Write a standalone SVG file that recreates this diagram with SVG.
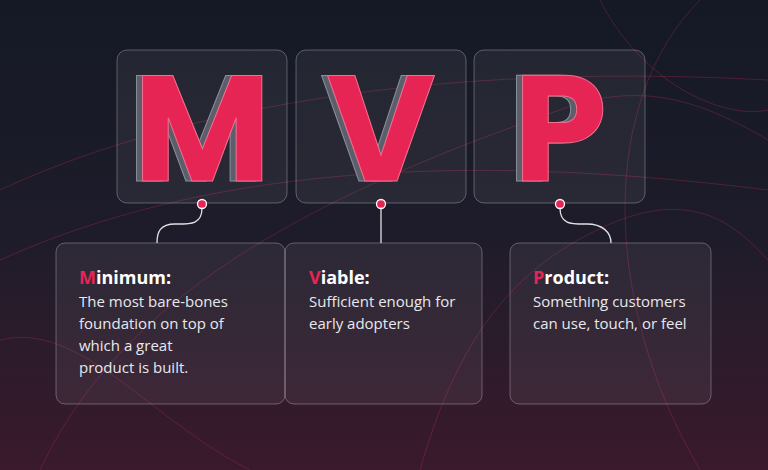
<svg xmlns="http://www.w3.org/2000/svg" width="768" height="470" viewBox="0 0 768 470">
<defs>
<linearGradient id="bg" x1="0" y1="0" x2="0" y2="1">
<stop offset="0" stop-color="#141925"/><stop offset="0.5" stop-color="#1e1c2a"/><stop offset="1" stop-color="#3a1a2c"/>
</linearGradient>
<style>
.card{fill:#ffffff;fill-opacity:0.06;stroke:#ffffff;stroke-opacity:0.28;stroke-width:1}
.big{font-family:Poppins,"Montserrat","Liberation Sans",sans-serif;font-weight:700;font-size:150px;text-anchor:middle}
.sh{fill:#5a5f6b;stroke:#8a8f99;stroke-width:1}
.fg{fill:#e62554;stroke:#f0708f;stroke-width:1}
.t{font-family:"Open Sans","Liberation Sans",sans-serif;fill:#e8e8ee;font-size:15px}
.h{font-family:"Open Sans","Liberation Sans",sans-serif;fill:#ffffff;font-size:18px;font-weight:700}
.r{fill:#e62554}
.deco{fill:none;stroke:#d0305e;stroke-opacity:0.28;stroke-width:1}
.con{fill:none;stroke:#e0e0e6;stroke-width:1.3}
.dot{fill:#e62554;stroke:#ffffff;stroke-width:1.3}
</style>
</defs>
<rect width="768" height="470" fill="url(#bg)"/>
<g id="decor">
<path class="deco" d="M0 190 C150 120 400 60 768 80"/>
<path class="deco" d="M0 260 C200 170 450 150 768 190"/>
<path class="deco" d="M40 470 C120 300 300 200 560 110 C640 80 700 100 768 140"/>
<path class="deco" d="M0 340 C80 320 150 420 250 470"/>
<path class="deco" d="M700 0 C600 100 600 300 700 470"/>
<path class="deco" d="M420 470 C460 330 520 260 620 220 C700 190 740 230 768 260"/>
<path class="deco" d="M600 0 C640 80 720 120 768 110"/>
</g>
<g id="node-M">
<rect class="card" x="117" y="50" width="170" height="153" rx="10"/>
<text class="big sh" x="196" y="181">M</text>
<text class="big fg" x="202" y="181">M</text>
</g>
<g id="node-V">
<rect class="card" x="296" y="50" width="170" height="153" rx="10"/>
<text class="big sh" x="375" y="181">V</text>
<text class="big fg" x="381" y="181">V</text>
</g>
<g id="node-P">
<rect class="card" x="474" y="50" width="171" height="153" rx="10"/>
<text class="big sh" x="554" y="181">P</text>
<text class="big fg" x="560" y="181">P</text>
</g>
<g id="connectors">
<path class="con" d="M202 208 C202 225 190 224 175 224 C160 224 157 232 157 243"/>
<path class="con" d="M381 208 L381 243"/>
<path class="con" d="M560 208 C560 225 572 224 587 224 C602 224 611 232 611 243"/>
<circle class="dot" cx="202" cy="204" r="4.5"/>
<circle class="dot" cx="381" cy="204" r="4.5"/>
<circle class="dot" cx="560" cy="204" r="4.5"/>
</g>
<g id="card-minimum">
<rect class="card" x="56" y="243" width="229" height="161" rx="9"/>
<text class="h" x="79" y="284"><tspan class="r">M</tspan>inimum:</text>
<text class="t" x="79" y="307">The most bare-bones</text>
<text class="t" x="79" y="329">foundation on top of</text>
<text class="t" x="79" y="351">which a great</text>
<text class="t" x="79" y="373">product is built.</text>
</g>
<g id="card-viable">
<rect class="card" x="285" y="243" width="197" height="161" rx="9"/>
<text class="h" x="309" y="284"><tspan class="r">V</tspan>iable:</text>
<text class="t" x="309" y="307">Sufficient enough for</text>
<text class="t" x="309" y="329">early adopters</text>
</g>
<g id="card-product">
<rect class="card" x="510" y="243" width="201" height="161" rx="9"/>
<text class="h" x="533" y="284"><tspan class="r">P</tspan>roduct:</text>
<text class="t" x="533" y="307">Something customers</text>
<text class="t" x="533" y="329">can use, touch, or feel</text>
</g>
</svg>
